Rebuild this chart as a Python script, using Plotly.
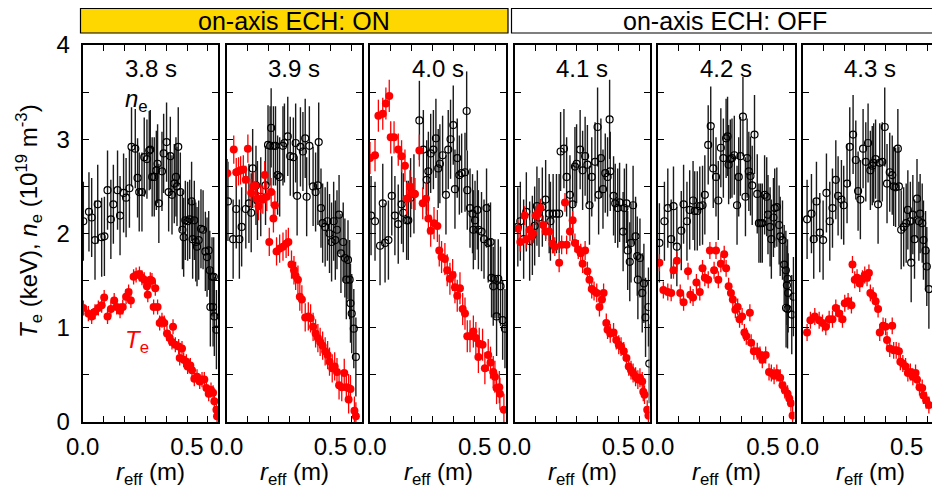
import plotly.graph_objects as go

W, H = 932, 490
TIMES = ["3.8 s", "3.9 s", "4.0 s", "4.1 s", "4.2 s", "4.3 s"]

# ---------------- 3.8 s ----------------
R_NE_38 = [0.003,0.03,0.043,0.059,0.072,0.091,0.104,0.119,0.135,0.147,0.167,0.179,0.196,0.208,0.224,0.234,0.252,0.263,0.271,0.284,0.295,0.308,0.319,0.324,0.333,0.343,0.353,0.359,0.365,0.38,0.388,0.402,0.412,0.42,0.428,0.439,0.447,0.452,0.458,0.468,0.478,0.484,0.492,0.503,0.513,0.522,0.527,0.535,0.542,0.548,0.556,0.567,0.577,0.588,0.596,0.604,0.609,0.62,0.612,0.625,0.631,0.641,0.628]
NE_38 = [2.13,2.23,2.17,1.93,2.31,1.96,1.97,2.46,2.15,2.31,2.46,2.19,2.43,2.38,2.48,2.92,2.90,2.59,2.44,2.44,2.81,2.79,2.88,2.89,2.60,2.60,2.67,2.74,2.32,2.66,2.85,2.97,2.44,2.82,2.41,2.53,2.60,2.50,2.92,2.44,2.04,1.96,2.14,2.13,2.15,2.34,1.94,2.14,1.91,1.86,1.93,2.05,2.04,1.81,1.75,1.82,1.61,1.54,1.22,1.22,1.12,0.98,1.54]
R_TE_38 = [0.003,0.027,0.043,0.059,0.075,0.091,0.103,0.119,0.135,0.151,0.163,0.179,0.192,0.208,0.22,0.231,0.244,0.256,0.272,0.284,0.295,0.308,0.312,0.324,0.332,0.34,0.348,0.359,0.369,0.38,0.391,0.404,0.417,0.433,0.428,0.444,0.46,0.476,0.465,0.484,0.497,0.503,0.516,0.524,0.535,0.548,0.561,0.572,0.583,0.593,0.604,0.615,0.625,0.631,0.641,0.644]
TE_38 = [1.21,1.15,1.12,1.17,1.21,1.24,1.32,1.12,1.20,1.29,1.22,1.18,1.22,1.33,1.38,1.29,1.54,1.56,1.57,1.53,1.51,1.44,1.35,1.51,1.50,1.22,1.42,1.22,1.05,1.08,1.05,0.94,0.89,1.01,0.85,0.82,0.80,0.78,0.68,0.66,0.64,0.59,0.60,0.55,0.46,0.48,0.43,0.45,0.45,0.36,0.30,0.34,0.31,0.22,0.13,0.06]

# ---------------- 3.9 s ----------------
R_NE_39 = [0.006,0.031,0.046,0.061,0.072,0.092,0.107,0.118,0.125,0.141,0.148,0.164,0.187,0.199,0.209,0.214,0.225,0.235,0.245,0.255,0.271,0.278,0.294,0.306,0.321,0.332,0.339,0.355,0.367,0.378,0.385,0.398,0.416,0.428,0.439,0.443,0.454,0.462,0.474,0.485,0.495,0.505,0.515,0.523,0.531,0.541,0.55,0.561,0.569,0.576,0.584,0.592,0.596,0.602,0.612,0.622]
NE_39 = [2.34,1.94,2.26,1.94,2.07,2.26,2.32,2.22,2.69,2.51,2.35,2.39,2.51,2.94,2.93,3.12,2.93,2.93,2.62,2.60,2.93,2.96,3.03,2.82,2.81,2.96,2.40,2.92,2.87,3.01,2.39,2.93,2.50,2.44,2.51,2.97,2.27,2.11,2.07,2.13,2.00,1.91,2.13,1.93,2.04,2.20,1.79,1.91,1.74,1.51,1.72,1.51,1.26,1.15,0.99,0.69]
R_TE_39 = [0.003,0.034,0.046,0.057,0.067,0.08,0.092,0.102,0.118,0.128,0.138,0.145,0.153,0.164,0.174,0.183,0.193,0.214,0.225,0.232,0.205,0.24,0.255,0.271,0.286,0.297,0.312,0.324,0.332,0.343,0.352,0.362,0.378,0.393,0.404,0.416,0.428,0.439,0.45,0.462,0.474,0.486,0.495,0.508,0.52,0.531,0.541,0.554,0.566,0.576,0.587,0.596,0.587,0.615,0.622]
TE_39 = [2.64,2.89,2.65,2.66,2.67,2.68,2.57,2.90,2.43,2.50,2.51,2.37,2.29,2.37,2.36,2.62,2.39,2.44,2.16,2.30,1.91,1.81,1.84,1.86,1.89,1.91,1.67,1.61,1.55,1.51,1.33,1.30,1.11,1.12,1.10,1.01,0.94,0.89,0.85,0.81,0.75,0.71,0.64,0.57,0.59,0.53,0.39,0.37,0.52,0.37,0.36,0.35,0.24,0.12,0.06]

# ---------------- 4.0 s ----------------
R_NE_40 = [0.005,0.024,0.048,0.072,0.088,0.104,0.061,0.119,0.135,0.151,0.159,0.175,0.183,0.194,0.21,0.236,0.255,0.271,0.279,0.29,0.303,0.315,0.326,0.334,0.347,0.363,0.374,0.385,0.398,0.406,0.417,0.427,0.438,0.454,0.462,0.465,0.478,0.49,0.502,0.513,0.494,0.518,0.533,0.545,0.557,0.565,0.576,0.581,0.589,0.597,0.605,0.613,0.624,0.634,0.645]
NE_40 = [2.19,2.13,1.87,1.90,1.93,2.40,2.32,2.19,2.10,2.31,2.22,2.14,2.14,2.38,2.42,3.20,2.89,2.57,2.66,2.85,2.89,3.01,2.69,2.74,2.83,2.41,2.89,3.00,3.15,2.47,2.80,2.62,2.64,2.65,3.30,2.46,2.27,2.21,2.14,2.25,2.04,2.04,2.02,1.94,2.27,1.90,1.91,1.53,1.44,1.52,1.12,1.52,1.44,1.08,0.99]
R_TE_40 = [0.0,0.024,0.04,0.061,0.076,0.092,0.099,0.115,0.135,0.151,0.167,0.175,0.191,0.199,0.215,0.236,0.252,0.268,0.279,0.29,0.306,0.322,0.331,0.342,0.358,0.369,0.382,0.395,0.406,0.417,0.43,0.443,0.454,0.465,0.478,0.494,0.506,0.518,0.522,0.538,0.549,0.565,0.576,0.589,0.597,0.605,0.618,0.621,0.64]
TE_40 = [2.80,2.83,3.25,3.27,3.38,3.46,3.02,3.02,2.89,2.82,2.72,2.37,2.50,2.43,2.42,2.88,2.32,2.37,2.16,2.03,2.11,2.08,1.82,1.75,1.73,1.61,1.52,1.56,1.43,1.34,1.42,1.20,1.15,0.91,0.91,0.96,0.89,0.69,0.83,0.82,0.57,0.71,0.63,0.53,0.48,0.36,0.37,0.30,0.13]

# ---------------- 4.1 s ----------------
R_NE_41 = [0.016,0.028,0.044,0.057,0.073,0.086,0.097,0.108,0.118,0.134,0.15,0.167,0.173,0.186,0.202,0.215,0.222,0.238,0.251,0.267,0.28,0.291,0.299,0.316,0.328,0.34,0.351,0.361,0.372,0.388,0.4,0.405,0.416,0.426,0.437,0.448,0.458,0.461,0.477,0.485,0.497,0.506,0.523,0.529,0.539,0.545,0.555,0.561,0.571,0.583,0.591,0.594,0.604,0.615,0.623,0.631,0.645,0.649]
NE_41 = [2.07,2.13,1.94,2.23,1.92,1.98,2.08,2.29,2.17,2.28,2.36,2.21,2.13,2.21,2.21,2.21,2.87,2.90,2.60,2.41,2.31,2.71,2.74,2.89,2.67,2.82,2.73,2.30,2.60,2.76,3.13,2.41,2.80,2.47,2.64,2.60,3.21,2.66,2.40,2.32,2.27,2.33,2.02,2.27,2.32,1.82,1.70,1.90,2.30,1.97,1.76,1.51,1.74,1.37,1.47,1.11,1.22,0.62]
R_TE_41 = [0.016,0.028,0.049,0.057,0.073,0.081,0.089,0.102,0.113,0.125,0.138,0.15,0.167,0.183,0.194,0.215,0.227,0.243,0.251,0.267,0.28,0.291,0.307,0.319,0.328,0.34,0.351,0.361,0.372,0.383,0.396,0.409,0.421,0.429,0.442,0.448,0.461,0.477,0.49,0.502,0.513,0.526,0.539,0.55,0.561,0.571,0.583,0.594,0.604,0.615,0.62,0.626,0.639,0.645]
TE_41 = [2.05,1.91,2.19,1.94,2.04,1.97,2.00,2.19,2.22,2.27,2.09,2.02,2.02,1.89,1.86,1.69,1.88,2.33,1.88,2.02,2.14,1.90,1.83,1.79,1.68,1.82,1.60,1.51,1.41,1.39,1.37,1.22,1.30,1.37,1.05,0.98,0.94,0.95,0.87,0.82,0.80,0.75,0.68,0.59,0.55,0.52,0.48,0.45,0.47,0.43,0.32,0.29,0.13,0.07]

# ---------------- 4.2 s ----------------
R_NE_42 = [0.008,0.032,0.048,0.064,0.075,0.091,0.112,0.123,0.139,0.152,0.168,0.176,0.188,0.2,0.213,0.224,0.24,0.252,0.264,0.277,0.288,0.3,0.312,0.325,0.332,0.337,0.345,0.353,0.364,0.377,0.385,0.393,0.405,0.417,0.425,0.433,0.441,0.449,0.46,0.473,0.481,0.489,0.497,0.508,0.518,0.524,0.534,0.54,0.55,0.556,0.566,0.577,0.582,0.593,0.601,0.609,0.617,0.617,0.614,0.62,0.61,0.637,0.645]
NE_42 = [1.90,2.13,2.27,1.94,2.29,1.86,2.03,2.31,2.13,2.25,2.35,2.24,2.24,2.29,2.30,2.41,2.94,3.14,2.69,2.60,2.35,2.91,2.80,3.01,3.03,2.73,2.79,2.80,2.83,2.30,2.60,2.82,3.24,2.39,2.80,2.66,2.61,2.51,3.05,2.42,2.11,2.11,2.11,2.41,2.39,2.20,2.07,1.94,2.17,2.27,2.28,2.09,1.97,1.93,1.67,1.61,1.52,1.20,1.45,1.37,1.21,1.14,1.33]
R_TE_42 = [0.008,0.027,0.048,0.064,0.075,0.091,0.107,0.123,0.144,0.155,0.168,0.184,0.2,0.213,0.224,0.24,0.248,0.268,0.277,0.288,0.3,0.316,0.325,0.337,0.348,0.357,0.369,0.38,0.389,0.401,0.412,0.421,0.438,0.444,0.457,0.473,0.486,0.497,0.513,0.529,0.54,0.553,0.566,0.582,0.593,0.604,0.617,0.625,0.633,0.641]
TE_42 = [1.69,1.40,1.38,1.37,1.61,1.71,1.37,1.27,1.60,1.35,1.32,1.48,1.38,1.63,1.53,1.51,1.82,1.61,1.82,1.51,1.68,1.78,1.63,1.44,1.37,1.30,1.19,1.22,1.09,1.12,0.95,0.91,1.16,0.84,0.75,0.75,0.71,0.66,0.71,0.53,0.52,0.49,0.52,0.47,0.39,0.34,0.30,0.25,0.20,0.07]

# ---------------- 4.3 s ----------------
R_NE_43 = [0.022,0.043,0.054,0.067,0.083,0.099,0.115,0.131,0.144,0.16,0.171,0.187,0.198,0.214,0.227,0.243,0.256,0.267,0.278,0.291,0.304,0.315,0.326,0.335,0.342,0.351,0.363,0.371,0.383,0.395,0.406,0.419,0.431,0.438,0.447,0.458,0.463,0.474,0.486,0.498,0.506,0.518,0.522,0.53,0.538,0.55,0.559,0.565,0.575,0.581,0.591,0.597,0.607]
NE_43 = [2.15,2.21,1.94,2.34,2.01,1.93,2.43,2.13,2.27,2.57,2.40,2.36,2.30,2.53,2.92,3.05,2.78,2.45,2.36,2.90,2.76,2.96,2.67,2.72,2.75,2.79,2.31,2.75,2.76,3.13,2.53,2.65,2.62,2.50,2.49,2.90,2.50,2.04,2.07,2.11,2.25,2.13,1.69,2.20,1.94,2.37,2.13,2.21,2.11,1.93,1.82,1.65,1.41]
R_TE_43 = [0.022,0.038,0.059,0.08,0.096,0.112,0.128,0.144,0.16,0.176,0.192,0.203,0.219,0.235,0.24,0.251,0.262,0.275,0.288,0.299,0.31,0.319,0.326,0.339,0.351,0.363,0.371,0.387,0.399,0.406,0.419,0.431,0.438,0.45,0.463,0.47,0.482,0.495,0.506,0.518,0.53,0.543,0.55,0.562,0.575,0.581,0.594,0.607]
TE_43 = [0.95,1.08,1.12,1.08,1.05,1.01,1.09,1.09,1.21,1.15,1.09,1.26,1.28,1.24,1.67,1.51,1.53,1.47,1.52,1.56,1.53,1.58,1.37,1.34,1.28,1.20,0.95,1.02,1.01,0.87,0.78,1.02,0.76,0.76,0.75,0.64,0.62,0.59,0.52,0.53,0.48,0.52,0.45,0.37,0.36,0.28,0.23,0.18]

R_NE = [R_NE_38, R_NE_39, R_NE_40, R_NE_41, R_NE_42, R_NE_43]
NE = [NE_38, NE_39, NE_40, NE_41, NE_42, NE_43]
R_TE = [R_TE_38, R_TE_39, R_TE_40, R_TE_41, R_TE_42, R_TE_43]
TE = [TE_38, TE_39, TE_40, TE_41, TE_42, TE_43]
NE_ERR = [0.42, 0.42, 0.42, 0.42, 0.42, 0.42]
TE_ERR = [0.08, 0.15, 0.17, 0.1, 0.09, 0.09]

X_TICKS = [0.0, 0.1, 0.2, 0.3, 0.4, 0.5, 0.6]
X_TICKTEXT = ["0.0", "", "", "", "", "0.5", ""]
Y_TICKS = [0, 0.5, 1, 1.5, 2, 2.5, 3, 3.5, 4]
Y_TICKTEXT = ["0", "", "1", "", "2", "", "3", "", "4"]

# panel pixel extents (left, right)
PANELS_PX = [(82.7, 218.3), (226.7, 361.7), (370, 506), (514.5, 649.5), (657.7, 794.5), (802.5, 932)]
X_MAX = [0.65, 0.65, 0.65, 0.65, 0.65, 0.622]
Y_BOT_PX, Y_TOP_PX = 422, 45

FONT = "Liberation Sans, Arial, Helvetica, sans-serif"
RED = "#ff0000"
FS = 24

fig = go.Figure()
for i in range(6):
    xa = "x" if i == 0 else f"x{i+1}"
    ya = "y" if i == 0 else f"y{i+1}"
    fig.add_trace(go.Scatter(
        x=R_NE[i], y=NE[i], mode="markers", xaxis=xa, yaxis=ya,
        marker=dict(symbol="circle-open", size=7, color="black", line=dict(width=1.2, color="black")),
        error_y=dict(type="constant", value=NE_ERR[i], width=0, thickness=1.4, color="#1a1a1a"),
        showlegend=False))
    fig.add_trace(go.Scatter(
        x=R_TE[i], y=TE[i], mode="markers", xaxis=xa, yaxis=ya,
        marker=dict(symbol="circle", size=8, color=RED),
        error_y=dict(type="constant", value=TE_ERR[i], width=0, thickness=1.3, color=RED),
        showlegend=False))

layout = dict(width=W, height=H, margin=dict(l=0, r=0, t=0, b=0, autoexpand=False),
              paper_bgcolor="white", plot_bgcolor="white", showlegend=False,
              font=dict(family=FONT, size=FS, color="black"))
ydom = [(H - Y_BOT_PX) / H, (H - Y_TOP_PX) / H]
for i in range(6):
    l, r = PANELS_PX[i]
    kx = "xaxis" if i == 0 else f"xaxis{i+1}"
    ky = "yaxis" if i == 0 else f"yaxis{i+1}"
    layout[kx] = dict(domain=[l / W, min(r / W, 1.0)], range=[0, X_MAX[i]],
                      anchor="y" if i == 0 else f"y{i+1}", automargin=False,
                      showline=True, linewidth=2, linecolor="black", mirror="ticks",
                      ticks="inside", ticklen=6, tickwidth=1.2, tickcolor="black",
                      tickvals=X_TICKS, ticktext=X_TICKTEXT, showgrid=False, zeroline=False,
                      tickfont=dict(size=FS, family=FONT), ticklabelstandoff=2)
    layout[ky] = dict(domain=ydom, range=[0, 4],
                      anchor="x" if i == 0 else f"x{i+1}", automargin=False,
                      showline=True, linewidth=2, linecolor="black",
                      mirror=("ticks" if i < 5 else False),
                      ticks="inside", ticklen=6, tickwidth=1.2, tickcolor="black",
                      tickvals=Y_TICKS, ticktext=Y_TICKTEXT, showgrid=False, zeroline=False,
                      showticklabels=(i == 0), tickfont=dict(size=FS, family=FONT),
                      ticklabelstandoff=6)
fig.update_layout(**layout)


def px_x(p):
    return p / W


def px_y(p):
    return (H - p) / H


shapes = [
    dict(type="rect", xref="paper", yref="paper", x0=px_x(80.5), x1=px_x(508), y0=px_y(33), y1=px_y(8.5),
         fillcolor="#ffd700", line=dict(color="black", width=1.2), layer="above"),
    dict(type="rect", xref="paper", yref="paper", x0=px_x(511.5), x1=px_x(945), y0=px_y(33), y1=px_y(8.5),
         fillcolor="white", line=dict(color="black", width=1.2), layer="above"),
]
ann = [
    dict(text="on-axis ECH: ON", x=px_x(294), y=px_y(21), xref="paper", yref="paper",
         showarrow=False, font=dict(size=25, family=FONT), xanchor="center", yanchor="middle"),
    dict(text="on-axis ECH: OFF", x=px_x(725), y=px_y(21), xref="paper", yref="paper",
         showarrow=False, font=dict(size=25, family=FONT), xanchor="center", yanchor="middle"),
    dict(text="<i>T</i><sub>e</sub> (keV), <i>n</i><sub>e</sub> (10<sup>19</sup> m<sup>-3</sup>)",
         x=px_x(29), y=px_y(221), xref="paper", yref="paper", textangle=-90,
         showarrow=False, font=dict(size=FS, family=FONT), xanchor="center", yanchor="middle"),
    dict(text="<i>n</i><sub>e</sub>", x=px_x(136), y=px_y(100), xref="paper", yref="paper",
         showarrow=False, font=dict(size=FS, family=FONT), xanchor="center", yanchor="middle"),
    dict(text="<i>T</i><sub>e</sub>", x=px_x(137), y=px_y(341), xref="paper", yref="paper",
         showarrow=False, font=dict(size=FS, family=FONT, color=RED), xanchor="center", yanchor="middle"),
]
for i in range(6):
    l, r = PANELS_PX[i]
    full_r = l + (r - l) * 0.65 / X_MAX[i]
    c = (l + full_r) / 2
    ann.append(dict(text=TIMES[i], x=px_x(c), y=px_y(68), xref="paper", yref="paper",
                    showarrow=False, font=dict(size=FS, family=FONT), xanchor="center", yanchor="middle"))
    ann.append(dict(text="<i>r</i><sub>eff</sub> (m)", x=px_x(c), y=px_y(473), xref="paper", yref="paper",
                    showarrow=False, font=dict(size=FS, family=FONT), xanchor="center", yanchor="middle"))
fig.update_layout(shapes=shapes, annotations=ann)

fig.write_html("out.html")
